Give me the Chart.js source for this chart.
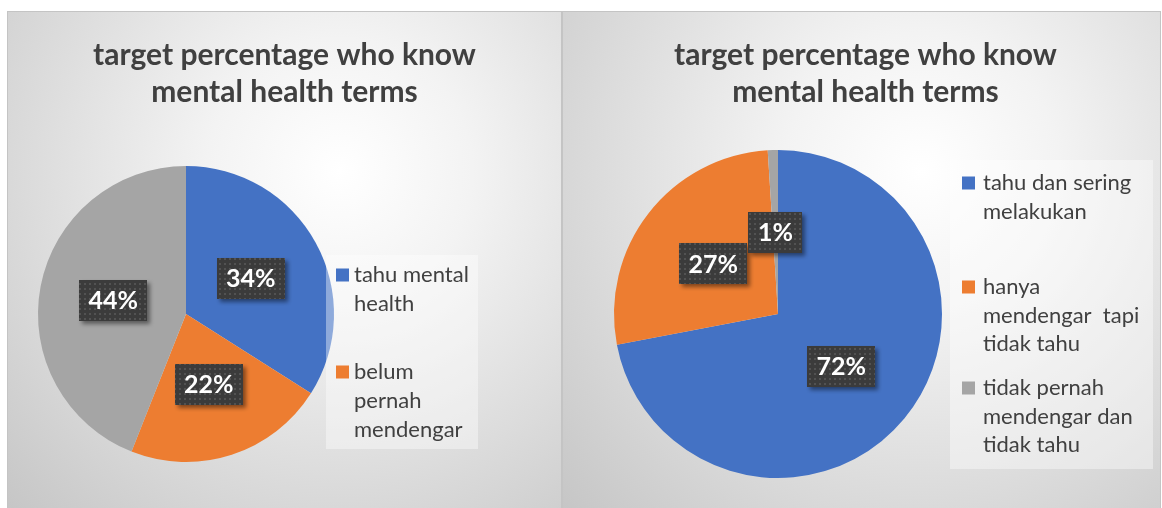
<!DOCTYPE html>
<html>
<head>
<meta charset="utf-8">
<script src="https://cdn.jsdelivr.net/npm/chart.js@4.4.1/dist/chart.umd.min.js"></script>
<style>
  html, body { margin: 0; padding: 0; background: #fff; }
  body { width: 1162px; height: 508px; position: relative; overflow: hidden; }
  .panel {
    position: absolute; top: 12px; height: 496px;
    outline: 1px solid #c4c4c4;
    background: radial-gradient(circle farthest-corner at 60% 32%, #ffffff 0%, #f3f3f3 28%, #c6c6c6 100%);
  }
  #leftPanel { left: 8px; width: 553px; }
  #rightPanel { left: 563px; width: 597px; }
  canvas { display: block; }
</style>
</head>
<body>
<div class="panel" id="leftPanel"><canvas id="leftPie" width="553" height="496"></canvas></div>
<div class="panel" id="rightPanel"><canvas id="rightPie" width="597" height="496"></canvas></div>
<script>
const titleLines = ['target percentage who know', 'mental health terms'];
const sliceColors = ['#4472C4', '#ED7D31', '#A5A5A5'];

// left chart (third slice has no legend entry in the original)
const leftCategories = [['tahu mental', 'health'], ['belum', 'pernah', 'mendengar'], []];
const leftValues = [34, 22, 44];

// right chart
const rightCategories = [
  ['tahu dan sering', 'melakukan'],
  ['hanya', 'mendengar  tapi', 'tidak tahu'],
  ['tidak pernah', 'mendengar dan', 'tidak tahu']
];
const rightValues = [72, 27, 1];

// dotted dark texture for the value boxes
const tile = document.createElement('canvas');
tile.width = 5; tile.height = 5;
const tctx = tile.getContext('2d');
tctx.fillStyle = '#3b3b3b';
tctx.fillRect(0, 0, 5, 5);
tctx.fillStyle = '#525252';
tctx.fillRect(1, 1, 2, 2);

const panelTitle = {
  id: 'panelTitle',
  afterDraw(chart, args, opts) {
    const ctx = chart.ctx;
    ctx.save();
    ctx.font = 'bold 30px Lato';
    ctx.fillStyle = '#404040';
    ctx.textAlign = 'center';
    ctx.textBaseline = 'middle';
    opts.lines.forEach((line, i) => {
      ctx.fillText(line, chart.width / 2 + (opts.dx || 0), opts.y + i * 37);
    });
    ctx.restore();
  }
};

const boxLabels = {
  id: 'boxLabels',
  afterDatasetsDraw(chart) {
    const ctx = chart.ctx;
    const values = chart.data.datasets[0].data;
    const total = values.reduce((a, b) => a + b, 0);
    const pattern = ctx.createPattern(tile, 'repeat');
    ctx.save();
    ctx.font = 'bold 25px Lato';
    ctx.textAlign = 'center';
    ctx.textBaseline = 'middle';
    chart.getDatasetMeta(0).data.forEach((arc, i) => {
      const p = arc.tooltipPosition();
      const text = Math.round(values[i] / total * 100) + '%';
      const w = ctx.measureText(text).width + 19;
      const h = 41;
      ctx.shadowColor = 'rgba(0,0,0,0.45)';
      ctx.shadowOffsetX = 3;
      ctx.shadowOffsetY = 3;
      ctx.shadowBlur = 4;
      ctx.fillStyle = pattern;
      ctx.fillRect(Math.round(p.x - w / 2), Math.round(p.y - h / 2), Math.round(w), h);
      ctx.shadowColor = 'transparent';
      ctx.fillStyle = '#ffffff';
      ctx.fillText(text, p.x, p.y + 1);
    });
    ctx.restore();
  }
};

const boxLegend = {
  id: 'boxLegend',
  afterDraw(chart, args, opts) {
    const ctx = chart.ctx;
    const [bx, by, bw, bh] = opts.box;
    ctx.save();
    ctx.fillStyle = 'rgba(255,255,255,0.4)';
    ctx.fillRect(bx, by, bw, bh);
    ctx.font = '22px Lato';
    ctx.textBaseline = 'middle';
    chart.data.labels.forEach((lines, i) => {
      if (!lines.length) return;
      const y0 = opts.itemY[i];
      ctx.fillStyle = chart.data.datasets[0].backgroundColor[i];
      ctx.fillRect(opts.markerX, y0 - 6.5, 13, 13);
      ctx.fillStyle = '#404040';
      lines.forEach((line, j) => ctx.fillText(line, opts.textX, y0 + j * opts.lineHeight));
    });
    ctx.restore();
  }
};

function makePie(id, labels, values, padding, titleOpts, legendOpts) {
  return new Chart(document.getElementById(id), {
    type: 'pie',
    data: {
      labels: labels,
      datasets: [{
        data: values,
        backgroundColor: sliceColors,
        borderWidth: 0
      }]
    },
    options: {
      responsive: false,
      animation: false,
      events: [],
      layout: { padding: padding },
      plugins: {
        legend: { display: false },
        title: { display: false },
        tooltip: { enabled: false },
        panelTitle: titleOpts,
        boxLegend: legendOpts
      }
    },
    plugins: [boxLabels, boxLegend, panelTitle]
  });
}

makePie('leftPie', leftCategories, leftValues,
  { top: 154, left: 30, right: 227, bottom: 46 },
  { lines: titleLines, y: 43, dx: 0 },
  { box: [318, 243, 152, 194], markerX: 328, textX: 346, itemY: [263, 360], lineHeight: 29 });

makePie('rightPie', rightCategories, rightValues,
  { top: 138, left: 51, right: 218, bottom: 30 },
  { lines: titleLines, y: 43, dx: 4 },
  { box: [387, 148, 203, 309], markerX: 399, textX: 420, itemY: [171, 275, 376], lineHeight: 28.7 });
</script>
</body>
</html>
